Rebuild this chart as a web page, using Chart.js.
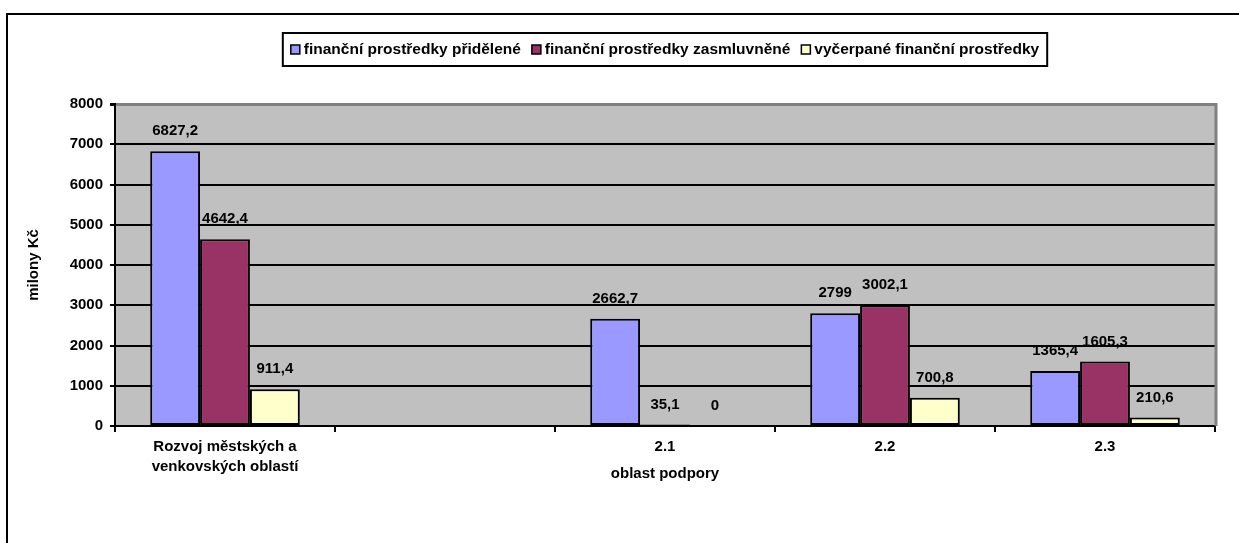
<!DOCTYPE html>
<html>
<head>
<meta charset="utf-8">
<script src="https://cdn.jsdelivr.net/npm/chart.js@4.4.1/dist/chart.umd.min.js"></script>
<style>
  html, body { margin: 0; padding: 0; background: #fff; overflow: hidden; }
  #wrap { position: relative; width: 1239px; height: 543px; }
  #frame { position: absolute; left: 6px; top: 13px; width: 1260px; height: 560px;
           border: 2px solid #000; pointer-events: none; }
  canvas { position: absolute; left: 0; top: 0; }
</style>
</head>
<body>
<div id="wrap">
  <canvas id="mainChart" width="1239" height="543"></canvas>
  <div id="frame"></div>
</div>
<script>
// Datos
const categories = [['Rozvoj městských a', 'venkovských oblastí'], '', '2.1', '2.2', '2.3'];
const seriesNames = ['finanční prostředky přidělené', 'finanční prostředky zasmluvněné', 'vyčerpané finanční prostředky'];
const pridelene = [6827.2, null, 2662.7, 2799, 1365.4];
const zasmluvnene = [4642.4, null, 35.1, 3002.1, 1605.3];
const vycerpane = [911.4, null, 0, 700.8, 210.6];
const yTicks = [0, 1000, 2000, 3000, 4000, 5000, 6000, 7000, 8000];
const colors = ['#9999FF', '#993366', '#FFFFCC'];

const FONT = '"Liberation Sans", Arial, sans-serif';

// fondo gris del área de trazado + borde derecho
const plotArea = {
  id: 'plotArea',
  beforeDraw(chart) {
    const { ctx, chartArea: a } = chart;
    ctx.save();
    ctx.fillStyle = '#C0C0C0';
    ctx.fillRect(a.left, a.top, a.right - a.left, a.bottom - a.top);
    ctx.restore();
  },
  afterDatasetsDraw(chart) {
    const { ctx, chartArea: a } = chart;
    ctx.save();
    ctx.strokeStyle = '#808080';
    ctx.lineWidth = 3;
    ctx.beginPath();
    ctx.moveTo(a.right + 1, a.top - 1);
    ctx.lineTo(a.right + 1, a.bottom);
    ctx.stroke();
    ctx.restore();
  }
};

// etiquetas de valores
const valueLabels = {
  id: 'valueLabels',
  afterDatasetsDraw(chart) {
    const ctx = chart.ctx;
    ctx.save();
    ctx.font = 'bold 15px ' + FONT;
    ctx.fillStyle = '#000';
    ctx.textAlign = 'center';
    ctx.textBaseline = 'middle';
    chart.data.datasets.forEach((ds, i) => {
      chart.getDatasetMeta(i).data.forEach((bar, j) => {
        const v = ds.data[j];
        if (v === null || v === undefined) return;
        ctx.fillText(String(v).replace('.', ','), bar.x, bar.y - 20);
      });
    });
    ctx.restore();
  }
};

// leyenda con marco
const boxLegend = {
  id: 'boxLegend',
  afterDraw(chart) {
    const { ctx, chartArea: a } = chart;
    ctx.save();
    ctx.font = 'bold 15.5px ' + FONT;
    const sw = 9, gapSw = 4, gapItem = 11, pad = 8;
    const widths = seriesNames.map(n => ctx.measureText(n).width);
    const total = widths.reduce((s, w) => s + sw + gapSw + w, 0) + gapItem * (seriesNames.length - 1);
    const cx = (a.left + a.right) / 2;
    const top = 33, h = 33;
    const left = cx - total / 2 - pad;
    ctx.strokeStyle = '#000';
    ctx.lineWidth = 2;
    ctx.strokeRect(left, top, total + pad * 2, h);
    let x = left + pad;
    const cy = top + h / 2;
    ctx.textBaseline = 'middle';
    ctx.textAlign = 'left';
    seriesNames.forEach((n, i) => {
      ctx.fillStyle = colors[i];
      ctx.fillRect(x, cy - 4.5, sw, sw);
      ctx.lineWidth = 1.5;
      ctx.strokeRect(x, cy - 4.5, sw, sw);
      x += sw + gapSw;
      ctx.fillStyle = '#000';
      ctx.fillText(n, x, cy);
      x += widths[i] + gapItem;
    });
    ctx.restore();
  }
};

const ctx = document.getElementById('mainChart').getContext('2d');
const dataSeries = [pridelene, zasmluvnene, vycerpane];

new Chart(ctx, {
  type: 'bar',
  data: {
    labels: categories,
    datasets: dataSeries.map((d, i) => ({
      label: seriesNames[i],
      data: d,
      backgroundColor: colors[i],
      borderColor: '#000',
      borderWidth: 2,
      borderSkipped: false,
      categoryPercentage: 0.68,
      barPercentage: 1.0
    }))
  },
  options: {
    responsive: false,
    animation: false,
    devicePixelRatio: 1,
    layout: { padding: { top: 104, right: 24, left: 10, bottom: 0 } },
    plugins: { legend: { display: false }, tooltip: { enabled: false } },
    scales: {
      x: {
        afterFit: s => { s.height = 117; },
        grid: { offset: true, drawOnChartArea: false, color: '#000', lineWidth: 2, tickLength: 6 },
        border: { color: '#000', width: 2 },
        ticks: { color: '#000', font: { family: FONT, size: 15, weight: 'bold', lineHeight: 1.33 }, padding: 5, maxRotation: 0, autoSkip: false },
        title: { display: true, text: 'oblast podpory', color: '#000',
                 font: { family: FONT, size: 15, weight: 'bold' }, padding: { bottom: 60 } }
      },
      y: {
        min: 0, max: 8000,
        afterFit: s => { s.width = 105; },
        afterBuildTicks: s => { s.ticks = yTicks.map(v => ({ value: v })); },
        grid: {
          color: c => (c.tick && c.tick.value === 8000 ? '#808080' : '#000'),
          lineWidth: c => (c.tick && c.tick.value === 8000 ? 3 : 2),
          tickColor: '#000',
          tickLength: 5
        },
        border: { color: '#000', width: 2 },
        ticks: { color: '#000', font: { family: FONT, size: 15, weight: 'bold' }, padding: 7,
                 callback: v => String(v) },
        title: { display: true, text: 'milony Kč', color: '#000',
                 font: { family: FONT, size: 15, weight: 'bold' }, padding: { top: 15 } }
      }
    }
  },
  plugins: [plotArea, valueLabels, boxLegend]
});
</script>
</body>
</html>
